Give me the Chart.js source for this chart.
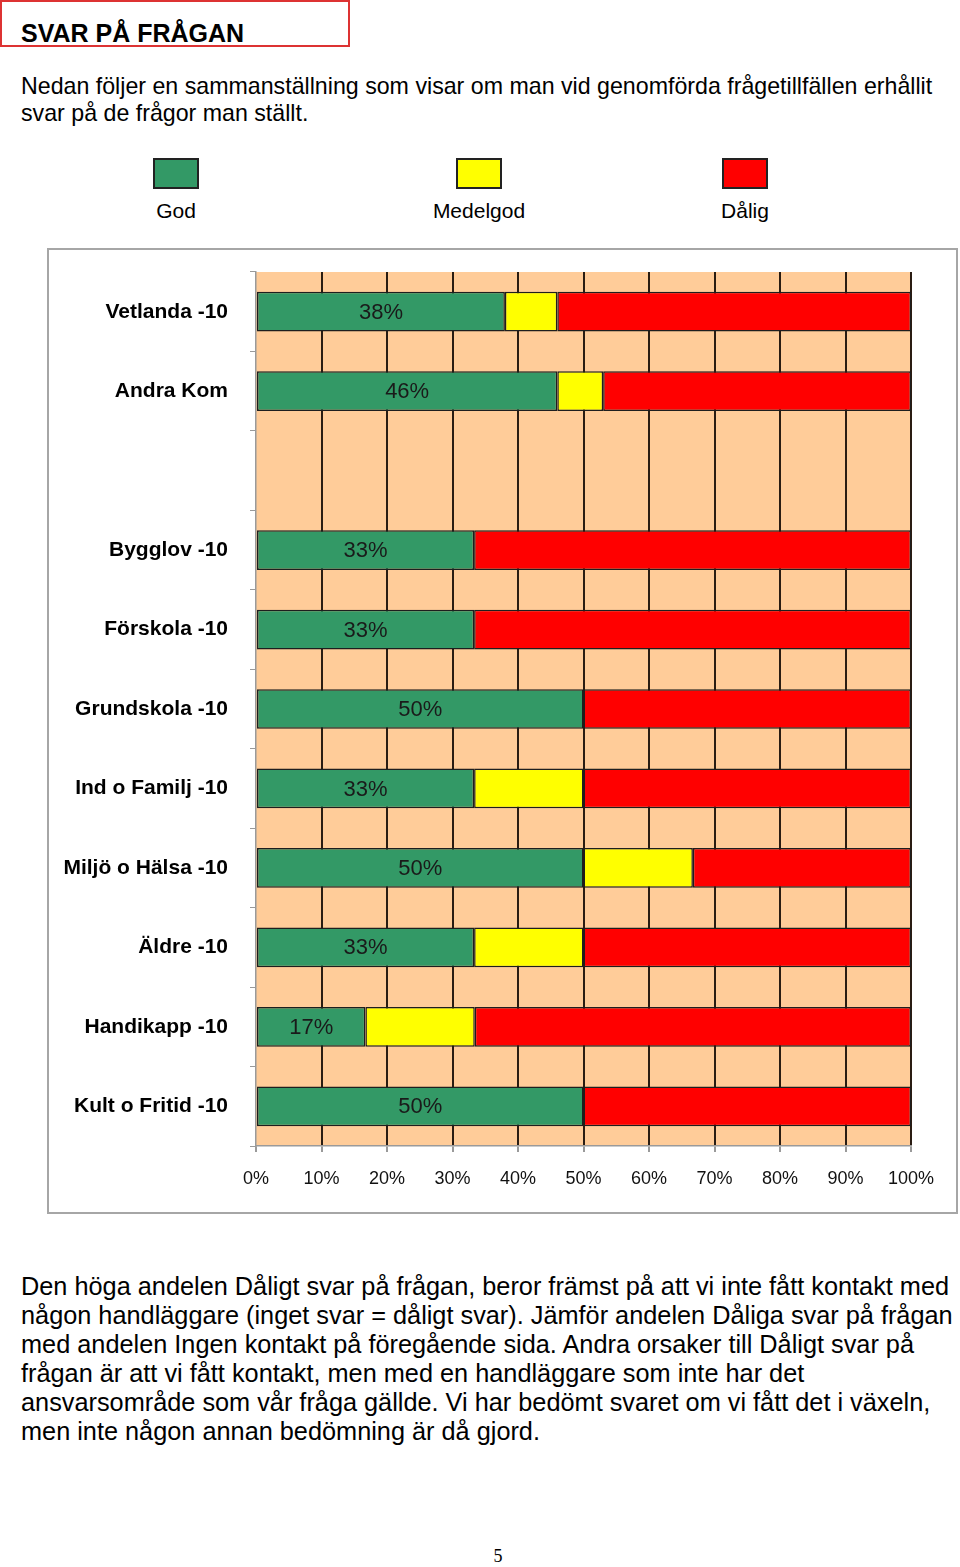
<!DOCTYPE html>
<html lang="sv">
<head>
<meta charset="UTF-8">
<title>Svar på frågan</title>
<script src="https://cdn.jsdelivr.net/npm/chart.js"></script>
<style>
    body {
        margin: 0;
        width: 960px;
        height: 1567px;
        position: relative;
        background: #fff;
        color: #000;
        font-family: "Liberation Sans", Arial, sans-serif;
        overflow: hidden;
    }
    .heading {
        position: absolute;
        left: 0; top: 0;
        width: 350px; height: 47px;
        box-sizing: border-box;
        border: 2px solid #dd3333;
    }
    .heading span {
        position: absolute;
        left: 19px; top: 17px;
        font-size: 25px;
        font-weight: bold;
        line-height: 29px;
        white-space: nowrap;
    }
    .intro, .outro {
        position: absolute;
        left: 21px;
        white-space: nowrap;
    }
    .intro { top: 73px; font-size: 23.2px; line-height: 27px; }
    .outro { top: 1272px; font-size: 25.3px; line-height: 29px; }
    .legend-item {
        position: absolute;
        top: 158px;
        width: 140px;
        text-align: center;
        font-size: 21px;
    }
    .legend-item .sw {
        width: 46px; height: 31px;
        box-sizing: border-box;
        border: 2px solid #222;
        margin: 0 auto 10px auto;
    }
    .chart-box {
        position: absolute;
        left: 47px; top: 248px;
        width: 911px; height: 966px;
        box-sizing: border-box;
        border: 2px solid #a6a6a6;
    }
    .chart-box canvas { position: absolute; left: 0; top: 0; }
    .page {
        position: absolute;
        left: 0; width: 996px; top: 1546px;
        text-align: center;
        font-family: "Liberation Serif", serif;
        font-size: 18px;
    }
</style>
</head>
<body>
    <div class="heading"><span>SVAR PÅ FRÅGAN</span></div>
    <div class="intro">Nedan följer en sammanställning som visar om man vid genomförda frågetillfällen erhållit<br>svar på de frågor man ställt.</div>

    <div class="legend-item" style="left:106px"><div class="sw" style="background:#339966"></div>God</div>
    <div class="legend-item" style="left:409px"><div class="sw" style="background:#ffff00"></div>Medelgod</div>
    <div class="legend-item" style="left:675px"><div class="sw" style="background:#ff0000"></div>Dålig</div>

    <div class="chart-box">
        <canvas id="myChart" width="907" height="962" style="width:907px;height:962px"></canvas>
    </div>

    <div class="outro">Den höga andelen Dåligt svar på frågan, beror främst på att vi inte fått kontakt med<br>någon handläggare (inget svar = dåligt svar). Jämför andelen Dåliga svar på frågan<br>med andelen Ingen kontakt på föregående sida. Andra orsaker till Dåligt svar på<br>frågan är att vi fått kontakt, men med en handläggare som inte har det<br>ansvarsområde som vår fråga gällde. Vi har bedömt svaret om vi fått det i växeln,<br>men inte någon annan bedömning är då gjord.</div>

    <div class="page">5</div>

    <script>
        // kategorier (tom rad mellan Andra Kom och Bygglov finns i originalet)
        const categories = ['Vetlanda -10', 'Andra Kom', '', 'Bygglov -10', 'Förskola -10', 'Grundskola -10',
            'Ind o Familj -10', 'Miljö o Hälsa -10', 'Äldre -10', 'Handikapp -10', 'Kult o Fritid -10'];
        const god      = [38, 46, null, 33.3, 33.3, 50, 33.3, 50, 33.3, 16.7, 50];
        const medelgod = [8, 7, null, null, null, null, 16.7, 16.7, 16.7, 16.7, null];
        const dalig    = [54, 47, null, 66.7, 66.7, 50, 50, 33.3, 50, 66.6, 50];
        const xTicks = [0, 10, 20, 30, 40, 50, 60, 70, 80, 90, 100];

        // peach bakgrund i ritytan
        const plotBg = {
            id: 'plotBg',
            beforeDraw(chart) {
                const a = chart.chartArea, c = chart.ctx;
                c.save();
                c.fillStyle = '#ffcc99';
                c.fillRect(a.left, a.top, a.right - a.left, a.bottom - a.top);
                c.restore();
            }
        };

        // procent mitt i den gröna delen
        const godLabels = {
            id: 'godLabels',
            afterDatasetsDraw(chart) {
                const c = chart.ctx;
                const meta = chart.getDatasetMeta(0);
                c.save();
                c.font = '22px "Liberation Sans", Arial, sans-serif';
                c.fillStyle = '#1a1a1a';
                c.textAlign = 'center';
                c.textBaseline = 'middle';
                meta.data.forEach((bar, i) => {
                    if (god[i] == null) return;
                    const p = bar.getProps(['x', 'y', 'base'], true);
                    c.fillText(Math.round(god[i]) + '%', (p.x + p.base) / 2, p.y + 1);
                });
                c.restore();
            }
        };

        const barStyle = {
            borderColor: '#1e1e1e',
            borderWidth: 1.5,
            borderSkipped: false,
            categoryPercentage: 1,
            barPercentage: 0.5
        };

        new Chart(document.getElementById('myChart'), {
            type: 'bar',
            data: {
                labels: categories,
                datasets: [
                    { label: 'God', data: god, backgroundColor: '#339966', ...barStyle },
                    { label: 'Medelgod', data: medelgod, backgroundColor: '#ffff00', ...barStyle },
                    { label: 'Dålig', data: dalig, backgroundColor: '#ff0000', ...barStyle }
                ]
            },
            options: {
                indexAxis: 'y',
                responsive: false,
                animation: false,
                layout: { padding: { top: 22, right: 45, left: 0, bottom: 0 } },
                plugins: { legend: { display: false }, tooltip: { enabled: false } },
                scales: {
                    x: {
                        stacked: true,
                        min: 0,
                        max: 100,
                        afterBuildTicks(scale) { scale.ticks = xTicks.map(v => ({ value: v })); },
                        afterFit(scale) { scale.height = 66; },
                        grid: {
                            color: ctx => ctx.index === 0 ? 'rgba(0,0,0,0)' : '#2a1c12',
                            lineWidth: 2,
                            tickColor: '#9a9a9a',
                            tickLength: 6
                        },
                        border: { color: '#9a9a9a', width: 1.5 },
                        ticks: {
                            padding: 16,
                            color: '#111',
                            font: { size: 18, family: '"Liberation Sans", Arial, sans-serif' },
                            callback: v => v + '%'
                        }
                    },
                    y: {
                        stacked: true,
                        afterFit(scale) {
                            scale.width = 207;
                            scale.paddingTop = 0;
                            scale.paddingBottom = 0;
                        },
                        grid: {
                            offset: true,
                            drawOnChartArea: false,
                            tickColor: '#9a9a9a',
                            tickLength: 6
                        },
                        border: { color: '#9a9a9a', width: 1.5 },
                        ticks: {
                            padding: 22,
                            color: '#000',
                            font: { size: 21, weight: 'bold', family: '"Liberation Sans", Arial, sans-serif' }
                        }
                    }
                }
            },
            plugins: [plotBg, godLabels]
        });
    </script>
</body>
</html>
